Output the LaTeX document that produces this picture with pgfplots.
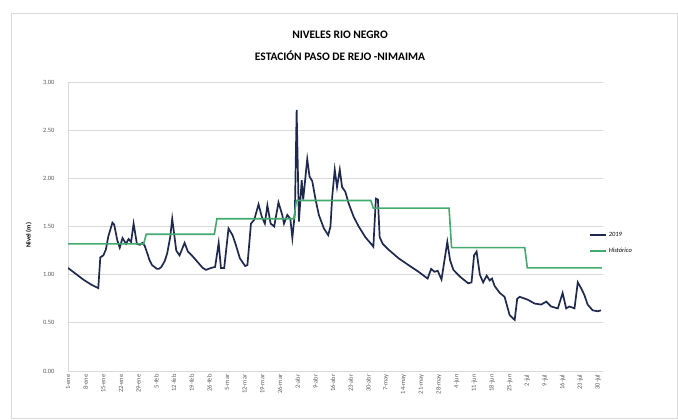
\documentclass[border=0pt]{standalone}
\usepackage{pgfplots}
\pgfplotsset{compat=1.18}
\usepackage{fontspec}
\setmainfont{Carlito}
\definecolor{navy}{RGB}{31,41,78}
\definecolor{hgreen}{RGB}{66,170,110}
\definecolor{gridc}{RGB}{217,217,217}
\definecolor{txtc}{RGB}{89,89,89}
\begin{document}
\begin{tikzpicture}[x=1bp,y=1bp]
\useasboundingbox (0,0) rectangle (678,419);
\draw[gridc] (11,1) rectangle (677,406);
\node[align=center, font=\bfseries\fontsize{11.5}{22}\selectfont] at (340,373) {NIVELES RIO NEGRO\\ESTACIÓN PASO DE REJO -NIMAIMA};
\begin{axis}[
  at={(68bp,48bp)}, anchor=south west, scale only axis,
  width=535bp, height=289bp,
  xmin=0, xmax=212, ymin=0, ymax=3,
  ytick={0,0.5,1,1.5,2,2.5,3},
  /pgf/number format/assume math mode=true,
  yticklabel style={/pgf/number format/fixed, /pgf/number format/fixed zerofill, /pgf/number format/precision=2,
    font=\fontsize{6.5}{7}\selectfont, text=txtc, xshift=-10bp},
  xtick={0,7,...,210},
  xticklabels={1-ene,8-ene,15-ene,22-ene,29-ene,5-feb,12-feb,19-feb,26-feb,5-mar,12-mar,19-mar,26-mar,2-abr,9-abr,16-abr,23-abr,30-abr,7-may,14-may,21-may,28-may,4-jun,11-jun,18-jun,25-jun,2-jul,9-jul,16-jul,23-jul,30-jul},
  xticklabel style={rotate=90, anchor=east, font=\fontsize{6.5}{7}\selectfont, text=txtc},
  tick style={draw=none},
  axis lines*=left,
  axis line style={gridc, line width=0.8bp},
  ymajorgrids, grid style={gridc, line width=0.8bp},
  ylabel={Nivel (m)},
  ylabel style={font=\bfseries\fontsize{6.5}{7}\selectfont, at={(-33bp,0.47)}, anchor=south},
  legend style={at={(0.968,0.495)}, anchor=north west, draw=none, fill=none,
    font=\itshape\fontsize{6.5}{7}\selectfont, row sep=6bp, legend cell align=left},
  legend image code/.code={\draw[#1] (0bp,0bp) -- (16bp,0bp);},
]
\addplot[navy, line width=1.7bp] coordinates {
(0,1.07)(3,1.01)(6,0.95)(9,0.90)(12,0.86)(12.8,1.18)(14,1.20)(15,1.26)(16,1.40)(17.6,1.54)(18.3,1.52)(19.5,1.36)(20.5,1.28)(21.6,1.38)(23,1.32)(24,1.37)(25,1.34)(26,1.53)(27.3,1.32)(28.5,1.31)(29.5,1.33)(30.4,1.30)(31.7,1.20)(32.3,1.15)(33.3,1.10)(34.3,1.08)(35.2,1.06)(36,1.06)(37,1.08)(38.3,1.14)(39.3,1.22)(40.5,1.39)(41.3,1.58)(42.9,1.25)(44.2,1.20)(46.2,1.33)(47.5,1.24)(49.4,1.19)(51.4,1.13)(53.4,1.07)(54.7,1.05)(56.7,1.07)(58.3,1.08)(59.7,1.33)(60.6,1.07)(61.9,1.07)(63.6,1.48)(65.2,1.41)(66.5,1.31)(68.1,1.17)(70.2,1.09)(71.1,1.10)(72.5,1.53)(73.8,1.57)(75.5,1.73)(76.8,1.60)(78,1.53)(79,1.72)(80.3,1.53)(81.7,1.50)(83.4,1.75)(84.9,1.62)(85.6,1.53)(86.9,1.62)(88.1,1.58)(88.9,1.38)(89.9,1.64)(90.6,2.71)(91.5,1.55)(92.6,1.98)(93.2,1.78)(94.8,2.20)(95.7,2.02)(96.8,1.97)(98.1,1.78)(99.4,1.62)(101.4,1.48)(103.1,1.41)(104,1.50)(104.7,1.81)(105.7,2.09)(106.6,1.91)(107.7,2.09)(108.6,1.91)(109.9,1.86)(111.2,1.74)(113.2,1.60)(115.2,1.50)(117.8,1.39)(120.4,1.31)(121,1.29)(122,1.79)(122.8,1.78)(123.5,1.39)(124.7,1.32)(127,1.26)(131,1.17)(134.9,1.10)(138.9,1.03)(142.5,0.96)(143.9,1.06)(145.2,1.03)(146.5,1.04)(148,0.95)(149.6,1.22)(150.3,1.34)(151.4,1.15)(152.7,1.05)(155.3,0.98)(158.6,0.91)(159.9,0.92)(160.9,1.20)(161.9,1.24)(163.2,1.00)(164.5,0.92)(165.9,0.99)(167.1,0.94)(168,0.96)(169.1,0.88)(171.1,0.81)(173,0.77)(175,0.58)(177,0.53)(178,0.75)(179,0.77)(182.2,0.74)(184.9,0.70)(187.5,0.69)(189.5,0.72)(191.4,0.67)(194.1,0.65)(196,0.81)(197.4,0.65)(198.7,0.67)(200.7,0.65)(202,0.92)(203.3,0.86)(204.6,0.79)(205.9,0.69)(207.9,0.63)(209.9,0.62)(211.2,0.63)
};
\addlegendentry{2019}
\addplot[hgreen, line width=1.6bp] coordinates {
(0,1.32)(30,1.32)(31,1.42)(58,1.42)(59,1.58)(89.5,1.58)(90.5,1.77)(120,1.77)(121,1.69)(151,1.69)(152,1.28)(181,1.28)(182,1.07)(211.5,1.07)
};
\addlegendentry{Histórico}
\end{axis}
\end{tikzpicture}
\end{document}
